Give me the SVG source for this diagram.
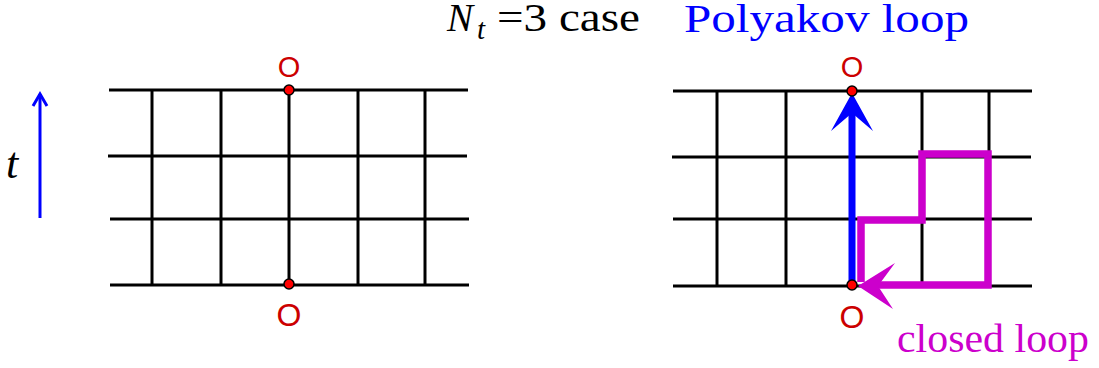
<svg xmlns="http://www.w3.org/2000/svg" width="1099" height="368" viewBox="0 0 1099 368">
<style>
.grid line{stroke:#000;stroke-width:3;}
.dot{fill:#ff0000;stroke:#000;stroke-width:1.5;}
.o{font-family:"Liberation Sans",Arial,sans-serif;fill:#cc0000;text-anchor:middle;}
.serif{font-family:"Liberation Serif","Times New Roman",serif;}
</style>
<rect width="1099" height="368" fill="#fff"/>
<g id="title">
<text class="serif" x="447" y="31" font-size="39" font-style="italic">N</text>
<text class="serif" x="477" y="39" font-size="29" font-style="italic">t</text>
<text class="serif" x="497" y="31" font-size="39" textLength="143" lengthAdjust="spacingAndGlyphs">=3 case</text>
</g>
<g id="polyakov-label"><text class="serif" x="684" y="32" font-size="41" fill="#0000ff" textLength="285" lengthAdjust="spacingAndGlyphs">Polyakov loop</text></g>
<g id="closed-label"><text class="serif" x="897" y="352" font-size="41" fill="#cc00cc" textLength="192" lengthAdjust="spacingAndGlyphs">closed loop</text></g>
<g id="t-axis">
<text class="serif" x="6" y="178" font-size="44" font-style="italic">t</text>
<line x1="40" y1="218" x2="40" y2="94" stroke="#0000ff" stroke-width="3"/>
<polyline points="33,106 40,94 47,106" fill="none" stroke="#0000ff" stroke-width="3"/>
</g>
<g id="left-lattice" class="grid">
<line x1="109" y1="90" x2="468" y2="90"/>
<line x1="108" y1="156" x2="467" y2="156"/>
<line x1="110" y1="219" x2="469" y2="219"/>
<line x1="110" y1="285" x2="469" y2="285"/>
<line x1="152" y1="90" x2="152" y2="285"/>
<line x1="221" y1="90" x2="221" y2="285"/>
<line x1="289" y1="90" x2="289" y2="285"/>
<line x1="358" y1="90" x2="358" y2="285"/>
<line x1="425" y1="90" x2="425" y2="285"/>
</g>
<g id="left-sites">
<circle class="dot" cx="289" cy="90" r="5"/>
<circle class="dot" cx="289" cy="284" r="5"/>
<text class="o" x="289" y="77" font-size="29">O</text>
<text class="o" x="289" y="326" font-size="32">O</text>
</g>
<g id="right-lattice" class="grid">
<line x1="673" y1="91" x2="1032" y2="91"/>
<line x1="672" y1="157" x2="1031" y2="157"/>
<line x1="673" y1="219" x2="1032" y2="219"/>
<line x1="673" y1="286" x2="1032" y2="286"/>
<line x1="717" y1="91" x2="717" y2="286"/>
<line x1="786" y1="91" x2="786" y2="286"/>
<line x1="922" y1="91" x2="922" y2="286"/>
<line x1="989" y1="91" x2="989" y2="286"/>
</g>
<g id="connectors">
<g id="polyakov-loop">
<line x1="852" y1="285" x2="852" y2="110" stroke="#0000ff" stroke-width="7"/>
<polygon points="852,93 873,131 852,113 831,131" fill="#0000ff"/>
</g>
<g id="closed-loop">
<polyline points="861,282 861,220 922,220 922,154 988,154 988,285 878,285" fill="none" stroke="#cc00cc" stroke-width="7.5"/>
<polygon points="858,286 895,263 878,286 893,309" fill="#cc00cc"/>
</g>
</g>
<g id="right-sites">
<circle class="dot" cx="852" cy="91" r="5"/>
<circle class="dot" cx="852" cy="285" r="5"/>
<text class="o" x="852" y="77" font-size="29">O</text>
<text class="o" x="852" y="328" font-size="32">O</text>
</g>
</svg>
